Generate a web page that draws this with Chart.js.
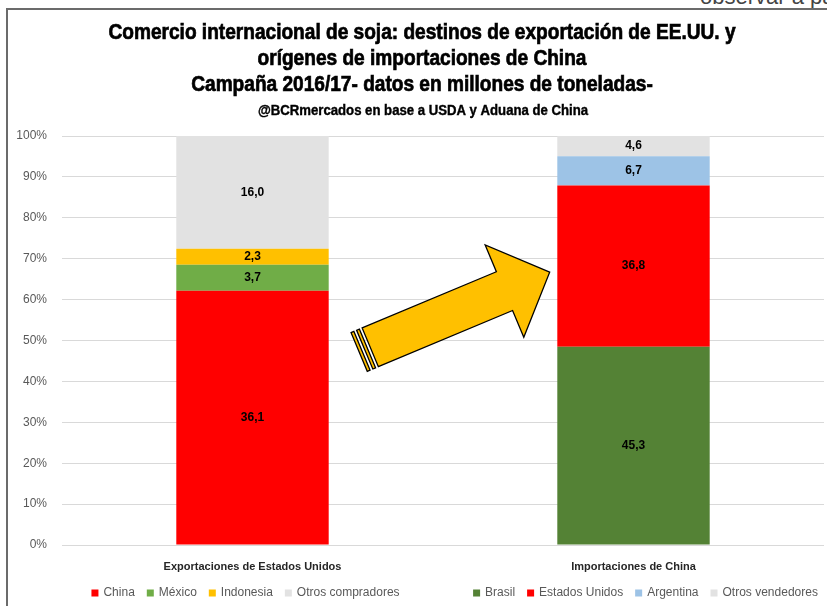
<!DOCTYPE html>
<html>
<head>
<meta charset="utf-8">
<script src="https://cdn.jsdelivr.net/npm/chart.js@4.4.1/dist/chart.umd.min.js"></script>
<style>
  body { margin: 0; background: #fff; }
  #wrap { position: relative; width: 827px; height: 606px; overflow: hidden; }
  #frame { position: absolute; left: 6px; top: 8px; right: -10px; bottom: -10px;
           border-left: 2px solid #6b6b6b; border-top: 2px solid #6b6b6b; }
  #nota { position: absolute; left: 700px; top: -16px; white-space: nowrap;
          font: 22px 'Liberation Sans', sans-serif; color: #444; }
  canvas { position: absolute; left: 0; top: 0; }
</style>
</head>
<body>
<div id="wrap">
  <div id="nota">observar a partir</div>
  <div id="frame"></div>
  <canvas id="grafico" width="827" height="606"></canvas>
</div>
<script>
// datos
var titulo = [
  'Comercio internacional de soja: destinos de exportación de EE.UU. y',
  'orígenes de importaciones de China',
  'Campaña 2016/17- datos en millones de toneladas-'
];
var subtitulo = '@BCRmercados en base a USDA y Aduana de China';

var categorias = ['Exportaciones de Estados Unidos', 'Importaciones de China'];

var destinos = ['China', 'México', 'Indonesia', 'Otros compradores'];
var exportaciones = [36.1, 3.7, 2.3, 16.0];
var coloresDestinos = ['#ff0000', '#70ad47', '#ffc000', '#e2e2e2'];

var origenes = ['Brasil', 'Estados Unidos', 'Argentina', 'Otros vendedores'];
var importaciones = [45.3, 36.8, 6.7, 4.6];
var coloresOrigenes = ['#548235', '#ff0000', '#9dc3e6', '#e2e2e2'];

var fuente = "'Liberation Sans', 'Noto Sans', sans-serif";

function suma(arr) {
  return arr.reduce(function(a, b) { return a + b; }, 0);
}

// armar los datasets apilados al 100%
var datasets = [];
var totalExp = suma(exportaciones);
var totalImp = suma(importaciones);

destinos.forEach(function(nombre, i) {
  datasets.push({
    label: nombre,
    grupo: 0,
    valores: [exportaciones[i], null],
    data: [exportaciones[i] / totalExp * 100, null],
    backgroundColor: coloresDestinos[i]
  });
});
origenes.forEach(function(nombre, i) {
  datasets.push({
    label: nombre,
    grupo: 1,
    valores: [null, importaciones[i]],
    data: [null, importaciones[i] / totalImp * 100],
    backgroundColor: coloresOrigenes[i]
  });
});

// titulos (letra angosta: se comprime en horizontal)
function textoAngosto(ctx, txt, cx, y, escala) {
  ctx.save();
  ctx.translate(cx, y);
  ctx.scale(escala, 1);
  ctx.strokeText(txt, 0, 0);
  ctx.fillText(txt, 0, 0);
  ctx.restore();
}

var pluginTitulo = {
  id: 'titulo',
  afterDraw: function(chart) {
    var ctx = chart.ctx;
    var cx = 422;
    ctx.save();
    ctx.fillStyle = '#000';
    ctx.strokeStyle = '#000';
    ctx.lineWidth = 0.7;
    ctx.textAlign = 'center';
    ctx.textBaseline = 'alphabetic';
    ctx.font = 'bold 22px ' + fuente;
    var esc = 627 / ctx.measureText(titulo[0]).width;
    textoAngosto(ctx, titulo[0], cx, 39, esc);
    textoAngosto(ctx, titulo[1], cx, 65, esc);
    textoAngosto(ctx, titulo[2], cx, 91, esc);
    ctx.lineWidth = 0.4;
    ctx.font = 'bold 14px ' + fuente;
    var esc2 = 330 / ctx.measureText(subtitulo).width;
    textoAngosto(ctx, subtitulo, cx + 1, 115, esc2);
    ctx.restore();
  }
};

// etiquetas de valores dentro de las barras
var pluginEtiquetas = {
  id: 'etiquetas',
  afterDatasetsDraw: function(chart) {
    var ctx = chart.ctx;
    ctx.save();
    ctx.font = 'bold 12px ' + fuente;
    ctx.fillStyle = '#000';
    ctx.textAlign = 'center';
    ctx.textBaseline = 'middle';
    chart.data.datasets.forEach(function(ds, i) {
      var meta = chart.getDatasetMeta(i);
      meta.data.forEach(function(el, j) {
        var v = ds.valores[j];
        if (v === null) return;
        ctx.fillText(v.toFixed(1).replace('.', ','), el.x, (el.y + el.base) / 2);
      });
    });
    ctx.restore();
  }
};

// flecha amarilla entre las dos barras
var pluginFlecha = {
  id: 'flecha',
  afterDatasetsDraw: function(chart) {
    var xs = chart.scales.x, ys = chart.scales.y;
    var c1 = xs.getPixelForValue(0), c2 = xs.getPixelForValue(1);
    var x0 = c1 + 0.28 * (c2 - c1), y0 = ys.getPixelForValue(47.2);
    var x1 = c1 + 0.78 * (c2 - c1), y1 = ys.getPixelForValue(66.7);
    var largo = Math.hypot(x1 - x0, y1 - y0);
    var ang = Math.atan2(y1 - y0, x1 - x0);
    var mc = 21, mp = 50, lp = 49;
    var ctx = chart.ctx;
    ctx.save();
    ctx.translate(x0, y0);
    ctx.rotate(ang);
    ctx.fillStyle = '#ffc000';
    ctx.strokeStyle = '#000';
    ctx.lineWidth = 1.3;
    // franjas
    [[0, 3], [6, 9]].forEach(function(f) {
      ctx.beginPath();
      ctx.rect(f[0], -mc, f[1] - f[0], 2 * mc);
      ctx.fill();
      ctx.stroke();
    });
    ctx.beginPath();
    ctx.moveTo(12, -mc);
    ctx.lineTo(largo - lp, -mc);
    ctx.lineTo(largo - lp, -mp);
    ctx.lineTo(largo, 0);
    ctx.lineTo(largo - lp, mp);
    ctx.lineTo(largo - lp, mc);
    ctx.lineTo(12, mc);
    ctx.closePath();
    ctx.fill();
    ctx.stroke();
    ctx.restore();
  }
};

// leyendas debajo de cada categoría
var desplazLeyenda = [-7, 12];
var pluginLeyenda = {
  id: 'leyendaDoble',
  afterDraw: function(chart) {
    var ctx = chart.ctx;
    var xs = chart.scales.x;
    var y = 593, lado = 7, sep = 5, hueco = 12;
    ctx.save();
    ctx.font = '12px ' + fuente;
    ctx.textBaseline = 'middle';
    [0, 1].forEach(function(g) {
      var items = chart.data.datasets.filter(function(d) { return d.grupo === g; });
      var ancho = 0;
      items.forEach(function(d, k) {
        ancho += lado + sep + ctx.measureText(d.label).width + (k < items.length - 1 ? hueco : 0);
      });
      var x = xs.getPixelForValue(g) - ancho / 2 + desplazLeyenda[g];
      items.forEach(function(d) {
        ctx.fillStyle = d.backgroundColor;
        ctx.fillRect(x, y - lado / 2, lado, lado);
        x += lado + sep;
        ctx.fillStyle = '#595959';
        ctx.fillText(d.label, x, y);
        x += ctx.measureText(d.label).width + hueco;
      });
    });
    ctx.restore();
  }
};

new Chart(document.getElementById('grafico'), {
  type: 'bar',
  data: {
    labels: categorias,
    datasets: datasets
  },
  options: {
    responsive: false,
    animation: false,
    layout: { padding: { left: 7, right: 3, top: 136, bottom: 0 } },
    barPercentage: 0.4,
    categoryPercentage: 1,
    plugins: {
      legend: { display: false },
      title: { display: false },
      tooltip: { enabled: false }
    },
    scales: {
      x: {
        stacked: true,
        grid: { display: false },
        border: { display: false },
        ticks: {
          padding: 7,
          color: '#262626',
          font: { family: fuente, size: 11, weight: 'bold' }
        },
        afterFit: function(s) { s.height = 61; }
      },
      y: {
        stacked: true,
        min: 0,
        max: 100,
        grid: { color: '#d9d9d9', drawTicks: false },
        border: { display: false },
        ticks: {
          stepSize: 10,
          padding: 15,
          color: '#595959',
          font: { family: fuente, size: 12 },
          callback: function(v) { return v + '%'; }
        },
        afterFit: function(s) { s.width = 55; }
      }
    }
  },
  plugins: [pluginTitulo, pluginEtiquetas, pluginFlecha, pluginLeyenda]
});
</script>
</body>
</html>
